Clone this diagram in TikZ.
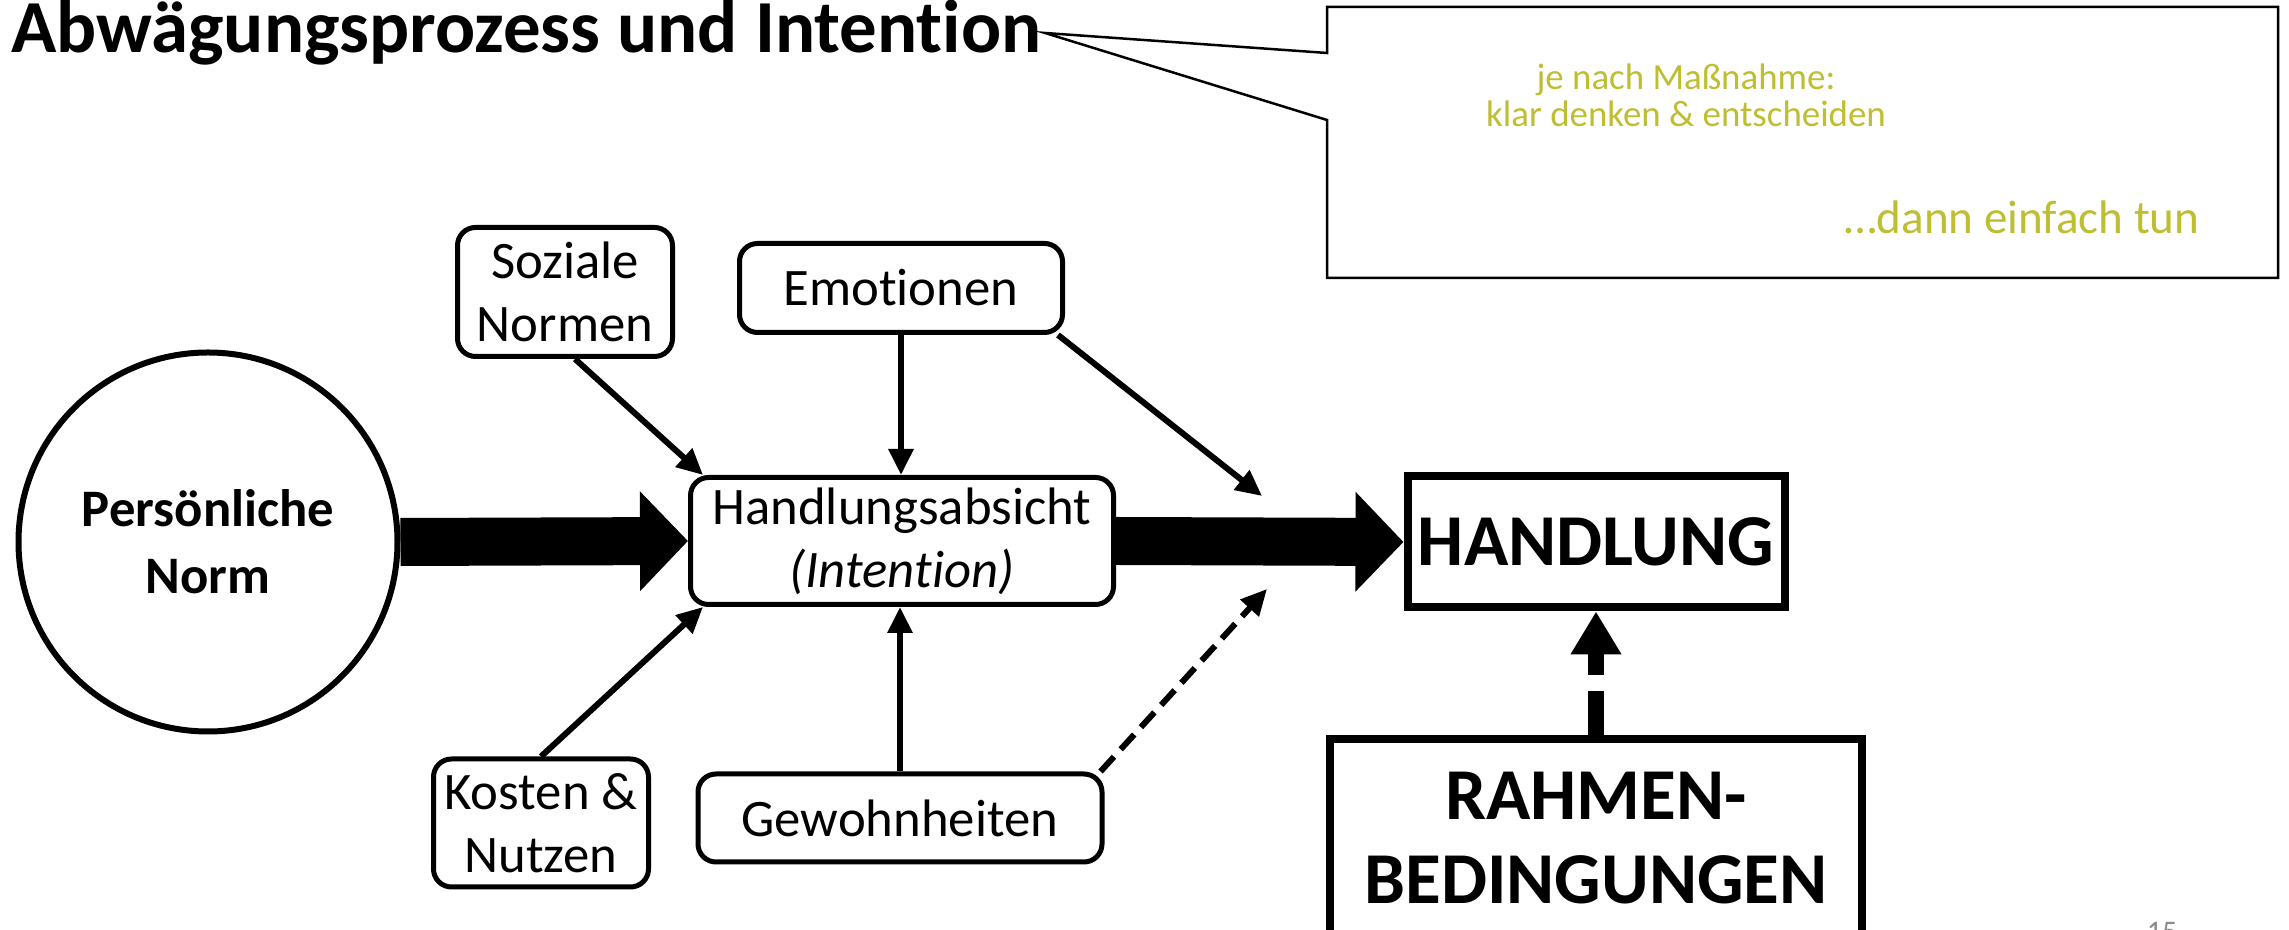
\documentclass[tikz,border=0pt]{standalone}
\usepackage{fontspec}
\setmainfont{Carlito}[Ligatures=NoCommon]
\usetikzlibrary{arrows.meta}
\definecolor{olivtext}{RGB}{190,190,50}
\tikzset{
	kasten/.style={draw, line width=0.05cm, rounded corners=0.18cm, inner sep=1pt, align=center, font=\fontsize{15}{18}\selectfont},
	pfeil/.style={line width=0.06cm, -{Triangle[length=0.26cm,width=0.24cm]}},
	dickpfeil/.style={line width=0.48cm, -{Triangle[length=0.48cm,width=0.97cm]}},
	fettkasten/.style={draw, line width=0.08cm, inner sep=0pt, align=center, font=\bfseries\fontsize{20.8}{23.9}\selectfont}
}

\begin{document}
\begin{tikzpicture}
		%%%%% START %%%%%
		\useasboundingbox (0, 0) rectangle (22.89, 9.30);
		\clip (0, 0) rectangle (22.89, 9.30);
		
		% title and note
		\node[anchor=base west, inner sep=0pt, font=\bfseries\fontsize{21.3}{25}\selectfont] (titel) at (0.105, 8.77) {Abwägungsprozess und Intention};
		\coordinate (spitze) at (10.45, 8.97);
		\draw[line width=0.025cm] (13.27, 9.23) -- (22.78, 9.23) -- (22.78, 6.52) -- (13.27, 6.52) -- (13.27, 8.10) -- (spitze) -- (13.27, 8.77) -- cycle;
		\node[align=center, text=olivtext, font=\fontsize{10.5}{10.5}\selectfont] (hinweis) at (16.86, 8.35) {je nach Maßnahme:\\klar denken \& entscheiden};
		\node[anchor=east, text=olivtext, font=\fontsize{13.4}{16}\selectfont] (tun) at (22.12, 7.13) {…dann einfach tun};
		
		% left part
		\node[draw, circle, line width=0.06cm, minimum size=3.79cm, align=center, font=\bfseries\fontsize{15}{19}\selectfont] (norm) at (2.08, 3.88) {Persönliche\\Norm};
		\node[kasten, minimum width=4.23cm, minimum height=1.27cm] (absicht) at (9.02, 3.89) {Handlungsabsicht\\\textit{(Intention)}};
		\node[kasten, minimum width=2.15cm, minimum height=1.29cm] (soziale) at (5.65, 6.38) {Soziale\\Normen};
		\node[kasten, minimum width=3.23cm, minimum height=0.89cm] (emotionen) at (9.01, 6.42) {Emotionen};
		\node[kasten, minimum width=2.15cm, minimum height=1.28cm] (kosten) at (5.41, 1.07) {Kosten \&\\Nutzen};
		\node[kasten, minimum width=4.04cm, minimum height=0.88cm] (gewohnheiten) at (9.00, 1.12) {Gewohnheiten};
		
		\draw[pfeil] ([xshift=0.1cm]soziale.south) -- ([xshift=0.15cm]absicht.north west);
		\draw[pfeil] (kosten.north) -- ([xshift=0.15cm]absicht.south west);
		\draw[pfeil] (emotionen.south) -- (emotionen.south |- absicht.north);
		\draw[pfeil] (gewohnheiten.north) -- (gewohnheiten.north |- absicht.south);
		
		% right part
		\node[fettkasten, minimum width=3.77cm, minimum height=1.31cm] (handlung) at (15.96, 3.88) {HANDLUNG};
		\node[fettkasten, minimum width=5.32cm, minimum height=1.98cm] (rahmen) at (15.96, 0.92) {RAHMEN-\\BEDINGUNGEN};
		
		\coordinate (oben) at (12.62, 4.34);
		\coordinate (unten) at (12.67, 3.41);
		\draw[pfeil] ([xshift=-0.07cm]emotionen.south east) -- (oben);
		\draw[pfeil, dash pattern=on 0.2cm off 0.1cm] ([xshift=-0.04cm]gewohnheiten.north east) -- (unten);
		
		\draw[dickpfeil] (norm.east) -- (absicht.west);
		\draw[dickpfeil] (absicht.east) -- (handlung.west);
		\draw[line width=0.16cm, dash pattern=on 0.44cm off 0.16cm, -{Triangle[length=0.43cm,width=0.48cm]}] (rahmen.north) -- (handlung.south);
		
		\node[anchor=north, inner sep=0pt, text=black!46, font=\fontsize{8.5}{10}\selectfont] (seite) at (21.62, 0.08) {15};
		%%%%% END %%%%%
	\end{tikzpicture}
\end{document}
